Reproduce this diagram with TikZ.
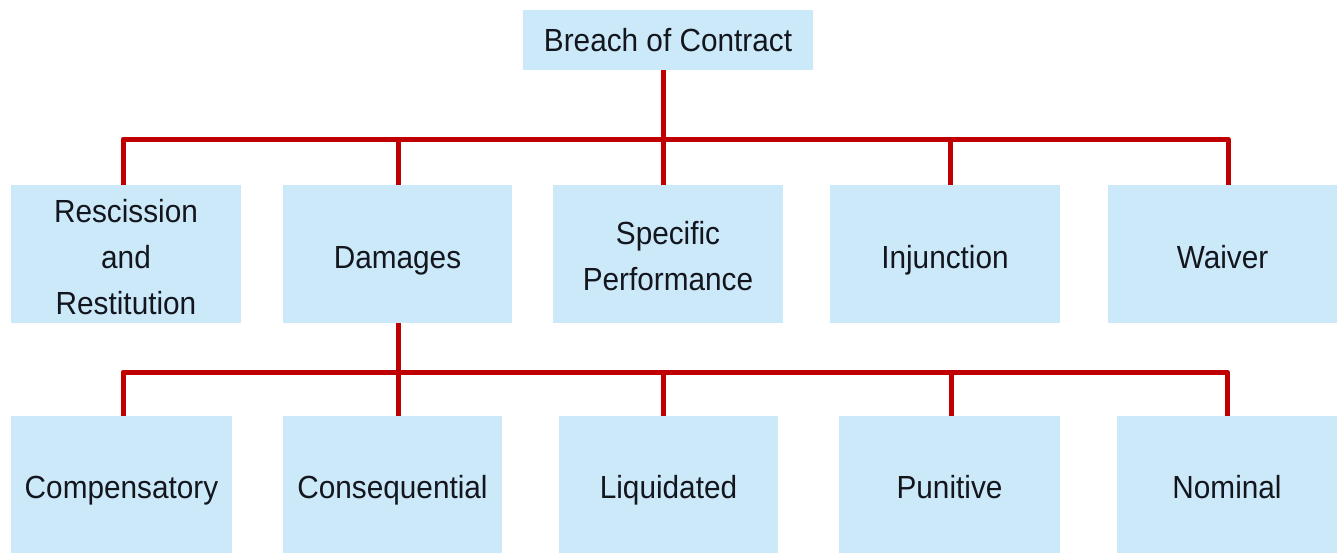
\documentclass[tikz,border=0pt]{standalone}
\usepackage{fontspec}
\setmainfont{Liberation Sans}[FakeStretch=0.93]
\definecolor{boxfill}{RGB}{204,233,250}
\definecolor{linered}{RGB}{192,0,0}
\definecolor{txt}{RGB}{20,22,30}
\begin{document}
\begin{tikzpicture}[x=1pt,y=-1pt,
  box/.style={rectangle,fill=boxfill,draw=none,inner sep=0pt,align=center,
    text=txt,font=\fontsize{32}{46}\selectfont,text height=28pt,text depth=0pt},
  multi/.style={text height=,text depth=},
  conn/.style={draw=linered,line width=5pt,line join=round,line cap=butt}]
\useasboundingbox (0,0) rectangle (1337,555);
\node[box,minimum width=290pt,minimum height=60pt,text height=23pt] (top) at (668,40) {Breach of Contract};
% row 1
\node[box,multi,minimum width=230pt,minimum height=138pt] (resc) at (126,254) {\rule{0pt}{29pt}Rescission\\and\\Restitution};
\node[box,minimum width=229pt,minimum height=138pt] (dam) at (397.5,254) {Damages};
\node[box,multi,minimum width=230pt,minimum height=138pt] (spec) at (668,254) {\rule{0pt}{27pt}Specific\\Performance};
\node[box,minimum width=230pt,minimum height=138pt] (inj) at (945,254) {Injunction};
\node[box,minimum width=229pt,minimum height=138pt] (waiv) at (1222.5,254) {Waiver};
% row 2
\node[box,minimum width=221pt,minimum height=137pt] (comp) at (121.5,484.5) {Compensatory};
\node[box,minimum width=219pt,minimum height=137pt] (cons) at (392.5,484.5) {Consequential};
\node[box,minimum width=219pt,minimum height=137pt] (liq) at (668.5,484.5) {Liquidated};
\node[box,minimum width=221pt,minimum height=137pt] (pun) at (949.5,484.5) {Punitive};
\node[box,minimum width=220pt,minimum height=137pt] (nom) at (1227,484.5) {Nominal};
% buses
\coordinate (bus1) at (663,139);
\coordinate (bus2) at (663,372);
% level 1 connectors
\draw[conn] ([xshift=-3pt]resc.north) |- ([xshift=5.5pt]waiv.north |- bus1) -- ([xshift=5.5pt]waiv.north);
\draw[conn] ([xshift=-5pt]top.south) -- ([xshift=-5pt]spec.north);
\draw[conn] ([xshift=0.5pt]dam.north |- bus1) -- ([xshift=0.5pt]dam.north);
\draw[conn] ([xshift=5pt]inj.north |- bus1) -- ([xshift=5pt]inj.north);
% level 2 connectors
\draw[conn] ([xshift=1.5pt]comp.north) |- (nom.north |- bus2) -- (nom.north);
\draw[conn] ([xshift=0.5pt]dam.south) -- ([xshift=0.5pt]dam.south |- cons.north);
\draw[conn] ([xshift=-5.5pt]liq.north |- bus2) -- ([xshift=-5.5pt]liq.north);
\draw[conn] ([xshift=1.5pt]pun.north |- bus2) -- ([xshift=1.5pt]pun.north);
\end{tikzpicture}
\end{document}
